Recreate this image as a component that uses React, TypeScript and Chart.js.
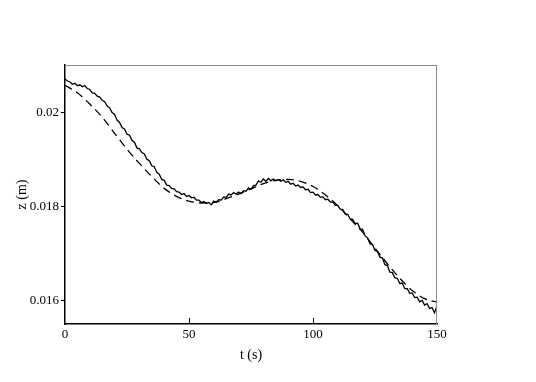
import React, { useEffect, useRef } from "react";
import { Chart, registerables } from "chart.js";

Chart.register(...registerables);

// Measured (solid, noisy) series: t = 0..150 s, step 1 s
const measuredT: number[] = Array.from({ length: 151 }, (_, i) => i);
const measuredZ: number[] = [
  0.02070, 0.02066, 0.02064, 0.02059, 0.02061, 0.02056, 0.02058, 0.02054, 0.02056, 0.02050,
  0.02048, 0.02041, 0.02040, 0.02034, 0.02032, 0.02025, 0.02022, 0.02013, 0.02009, 0.01999,
  0.01995, 0.01983, 0.01978, 0.01967, 0.01964, 0.01953, 0.01951, 0.01940, 0.01936, 0.01924,
  0.01922, 0.01914, 0.01911, 0.01900, 0.01897, 0.01886, 0.01884, 0.01872, 0.01868, 0.01857,
  0.01855, 0.01845, 0.01844, 0.01838, 0.01837, 0.01831, 0.01830, 0.01825, 0.01827, 0.01821,
  0.01823, 0.01818, 0.01819, 0.01813, 0.01813, 0.01808, 0.01810, 0.01806, 0.01808, 0.01803,
  0.01811, 0.01809, 0.01814, 0.01813, 0.01820, 0.01819, 0.01826, 0.01824, 0.01829, 0.01826,
  0.01830, 0.01827, 0.01833, 0.01832, 0.01839, 0.01836, 0.01844, 0.01845, 0.01854, 0.01851,
  0.01858, 0.01853, 0.01859, 0.01854, 0.01858, 0.01854, 0.01857, 0.01853, 0.01856, 0.01851,
  0.01853, 0.01847, 0.01849, 0.01843, 0.01845, 0.01840, 0.01841, 0.01835, 0.01836, 0.01829,
  0.01830, 0.01824, 0.01825, 0.01819, 0.01820, 0.01814, 0.01815, 0.01809, 0.01809, 0.01802,
  0.01802, 0.01794, 0.01793, 0.01784, 0.01783, 0.01773, 0.01772, 0.01763, 0.01764, 0.01752,
  0.01751, 0.01737, 0.01733, 0.01720, 0.01719, 0.01706, 0.01704, 0.01692, 0.01690, 0.01676,
  0.01674, 0.01660, 0.01659, 0.01648, 0.01647, 0.01636, 0.01637, 0.01625, 0.01625, 0.01615,
  0.01616, 0.01606, 0.01607, 0.01597, 0.01600, 0.01590, 0.01593, 0.01583, 0.01585, 0.01574,
  0.01589,
];

// Model (dashed, smooth) series: t = 0..150 s, step 5 s
const modelT: number[] = [
  0, 5, 10, 15, 20, 25, 30, 35, 40, 45, 50, 55, 60, 65, 70, 75, 80, 85, 90, 95, 100,
  105, 110, 115, 120, 125, 130, 135, 140, 145, 150,
];
const modelZ: number[] = [
  0.02057, 0.02041, 0.02017, 0.01989, 0.01955, 0.01921, 0.01891, 0.01863, 0.01838, 0.01821,
  0.01811, 0.01807, 0.01808, 0.01816, 0.01826, 0.01837, 0.01848, 0.01855, 0.01857, 0.01853,
  0.01842, 0.01824, 0.01801, 0.01773, 0.01745, 0.01711, 0.01678, 0.01647, 0.01621, 0.01604,
  0.01596,
];

const xTicks: number[] = [0, 50, 100, 150];
const yTicks: number[] = [0.016, 0.018, 0.02];
const yTickLabels: string[] = ["0.016", "0.018", "0.02"];

const FONT = "'Times New Roman', 'Liberation Serif', serif";

const framePlugin = {
  id: "frame",
  afterDatasetsDraw(chart: any) {
    const { ctx, chartArea, scales } = chart;
    const { left, right, top, bottom } = chartArea;
    ctx.save();
    ctx.strokeStyle = "#8a8a8a";
    ctx.lineWidth = 1;
    ctx.beginPath();
    ctx.moveTo(left, top + 0.5);
    ctx.lineTo(right, top + 0.5);
    ctx.moveTo(right - 0.5, top);
    ctx.lineTo(right - 0.5, bottom);
    ctx.stroke();
    // inward x ticks
    ctx.strokeStyle = "#000";
    ctx.lineWidth = 1;
    ctx.beginPath();
    for (const v of xTicks) {
      if (v === 0 || v === 150) continue;
      const x = Math.round(scales.x.getPixelForValue(v)) + 0.5;
      ctx.moveTo(x, bottom);
      ctx.lineTo(x, bottom - 6);
    }
    ctx.stroke();
    ctx.restore();
  },
};

export default function App() {
  const ref = useRef<HTMLCanvasElement | null>(null);

  useEffect(() => {
    if (!ref.current) return;
    const chart = new Chart(ref.current, {
      type: "scatter",
      data: {
        datasets: [
          {
            label: "measured",
            data: measuredT.map((t, i) => ({ x: t, y: measuredZ[i] })),
            showLine: true,
            borderColor: "#000",
            borderWidth: 1.3,
            pointRadius: 0,
            tension: 0,
            fill: false,
          },
          {
            label: "model",
            data: modelT.map((t, i) => ({ x: t, y: modelZ[i] })),
            showLine: true,
            borderColor: "#000",
            borderWidth: 1.3,
            borderDash: [8, 5],
            pointRadius: 0,
            cubicInterpolationMode: "monotone",
            fill: false,
          },
        ],
      },
      options: {
        animation: false,
        responsive: false,
        maintainAspectRatio: false,
        layout: { padding: { left: 0, top: 65, right: 99, bottom: 0 } },
        plugins: {
          legend: { display: false },
          tooltip: { enabled: false },
        },
        scales: {
          x: {
            type: "linear",
            min: 0,
            max: 150,
            afterBuildTicks: (s: any) => {
              s.ticks = xTicks.map((v) => ({ value: v }));
            },
            afterFit: (s: any) => {
              s.height = 58;
            },
            grid: { drawOnChartArea: false, drawTicks: false, color: "#000" },
            border: { display: true, color: "#000", width: 1.5 },
            ticks: {
              color: "#000",
              padding: 3,
              maxRotation: 0,
              font: { family: FONT, size: 13 },
              callback: (v: any) => String(v),
            },
            title: {
              display: true,
              text: "t (s)",
              color: "#000",
              font: { family: FONT, size: 14 },
              padding: { top: 6, bottom: 18 },
            },
          },
          y: {
            type: "linear",
            min: 0.0155,
            max: 0.021,
            afterBuildTicks: (s: any) => {
              s.ticks = yTicks.map((v) => ({ value: v }));
            },
            afterFit: (s: any) => {
              s.width = 65;
            },
            grid: {
              drawOnChartArea: false,
              drawTicks: true,
              tickLength: 4,
              color: "#000",
            },
            border: { display: true, color: "#000", width: 1.5 },
            ticks: {
              color: "#000",
              padding: 2,
              font: { family: FONT, size: 13 },
              callback: (v: any) => {
                const i = yTicks.findIndex((t) => Math.abs(t - v) < 1e-9);
                return i >= 0 ? yTickLabels[i] : "";
              },
            },
            title: {
              display: true,
              text: "z (m)",
              color: "#000",
              font: { family: FONT, size: 14 },
              padding: { top: 14, bottom: 0 },
            },
          },
        },
      },
      plugins: [framePlugin],
    });
    return () => chart.destroy();
  }, []);

  return (
    <div style={{ position: "absolute", left: 0, top: 0, width: 536, height: 382, background: "#fff" }}>
      <canvas ref={ref} width={536} height={382} style={{ width: 536, height: 382 }} />
    </div>
  );
}
